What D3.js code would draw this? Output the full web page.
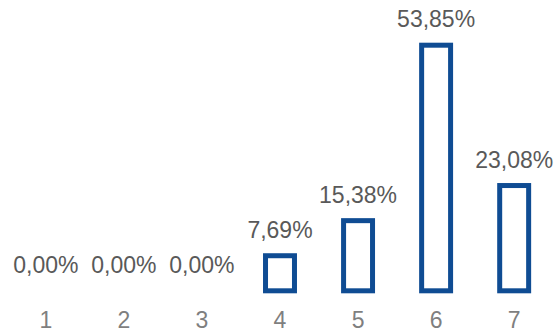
<!DOCTYPE html>
<html>
<head>
<meta charset="utf-8">
<script src="https://cdn.jsdelivr.net/npm/d3@7"></script>
<style>
  html, body { margin: 0; padding: 0; background: #fff; }
  svg { display: block; font-family: "Liberation Sans", Arial, sans-serif; }
</style>
</head>
<body>
<svg id="chart" width="555" height="332"></svg>
<script>
// Share of responses per rating (1–7), in percent
const categories = ["1", "2", "3", "4", "5", "6", "7"];
const values = [0.00, 0.00, 0.00, 7.69, 15.38, 53.85, 23.08];
const valueLabels = ["0,00%", "0,00%", "0,00%", "7,69%", "15,38%", "53,85%", "23,08%"];

const W = 555, H = 332;
const svg = d3.select("#chart");

const x = d3.scaleBand()
  .domain(categories)
  .range([7, 553])
  .paddingInner(0.565)
  .paddingOuter(0.28);

const y = d3.scaleLinear()
  .domain([0, 53.85])
  .range([290.8, 45.2]);

const strokeW = 5;
const blue = "#0F4C93";

const data = categories.map((c, i) => ({ cat: c, v: values[i], label: valueLabels[i] }));

// bars: outlined, white fill
svg.append("g")
  .selectAll("rect")
  .data(data)
  .join("rect")
  .attr("x", d => x(d.cat) + strokeW / 2)
  .attr("width", x.bandwidth() - strokeW)
  .attr("y", d => y(d.v))
  .attr("height", d => y(0) - y(d.v))
  .attr("fill", "#fff")
  .attr("stroke", blue)
  .attr("stroke-width", strokeW)
  .attr("display", d => d.v > 0 ? null : "none");

// value labels above each bar
svg.append("g")
  .selectAll("text")
  .data(data)
  .join("text")
  .attr("x", d => x(d.cat) + x.bandwidth() / 2)
  .attr("y", d => y(d.v) - 18)
  .attr("text-anchor", "middle")
  .attr("font-size", 23)
  .attr("fill", "#595959")
  .text(d => d.label);

// category axis (labels only)
const xAxis = d3.axisBottom(x).tickSize(0).tickPadding(0);
const gx = svg.append("g")
  .attr("transform", "translate(0,310)")
  .call(xAxis);
gx.select(".domain").remove();
gx.selectAll("text")
  .attr("dy", "0.8em")
  .attr("font-size", 23)
  .attr("font-family", "Liberation Sans, Arial, sans-serif")
  .attr("fill", "#7f7f7f");
</script>
</body>
</html>
